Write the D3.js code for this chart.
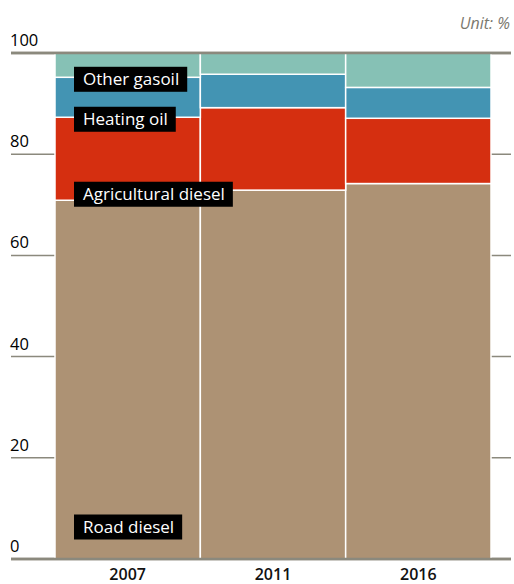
<!DOCTYPE html>
<html>
<head>
<meta charset="utf-8">
<script src="https://cdn.jsdelivr.net/npm/d3@7"></script>
<style>
  body { margin: 0; background: #fff; }
  text { font-family: "Open Sans", sans-serif; }
</style>
</head>
<body>
<div id="chart"></div>
<script>
// chart data, shares of gasoil use in %
var years = ["2007", "2011", "2016"];
var fuels = ["Road diesel", "Agricultural diesel", "Heating oil", "Other gasoil"];
var roadDiesel = [70.9, 72.9, 74.2];
var agriDiesel = [16.4, 16.3, 12.9];
var heatingOil = [7.9, 6.6, 6.1];
var otherGasoil = [4.8, 4.2, 6.8];
var yTicks = [0, 20, 40, 60, 80, 100];
var colours = ["#ad9274", "#d52f10", "#4394b3", "#86c1b5"];

var chartWidth = 514,
    chartHeight = 584,
    plotLeft = 55,
    plotRight = 491,
    plotTop = 53,
    plotBottom = 559;

// rows for the stack
var rows = years.map(function(yr, i) {
  return {
    year: yr,
    "Road diesel": roadDiesel[i],
    "Agricultural diesel": agriDiesel[i],
    "Heating oil": heatingOil[i],
    "Other gasoil": otherGasoil[i]
  };
});

var series = d3.stack().keys(fuels)(rows);

var svg = d3.select("#chart")
            .append("svg")
            .attr("width", chartWidth)
            .attr("height", chartHeight);

var x = d3.scaleBand()
          .domain(years)
          .range([plotLeft, plotRight])
          .padding(0);

var y = d3.scaleLinear()
          .domain([0, 100])
          .range([plotBottom, plotTop]);

// grid lines with the tick labels sitting on top of them
var grid = svg.append("g");
grid.selectAll("line")
    .data(yTicks)
    .enter()
    .append("line")
    .attr("x1", 11)
    .attr("x2", 511)
    .attr("y1", function(d) { return y(d); })
    .attr("y2", function(d) { return y(d); })
    .attr("stroke", "#8b897d")
    .attr("stroke-width", function(d) { return (d == 0 || d == 100) ? 2.5 : 1.5; });

grid.selectAll("text")
    .data(yTicks)
    .enter()
    .append("text")
    .attr("x", 10)
    .attr("y", function(d) { return y(d) - 7; })
    .attr("font-size", 16.5)
    .attr("fill", "#000")
    .text(function(d) { return d; });

// stacked bars
svg.append("g")
   .selectAll("g")
   .data(series)
   .enter()
   .append("g")
   .attr("fill", function(d, i) { return colours[i]; })
   .selectAll("rect")
   .data(function(d) { return d; })
   .enter()
   .append("rect")
   .attr("x", function(d) { return x(d.data.year); })
   .attr("width", x.bandwidth())
   .attr("y", function(d) { return y(d[1]); })
   .attr("height", function(d) { return y(d[0]) - y(d[1]); })
   .attr("stroke", "#fff")
   .attr("stroke-width", 1.5);

// redraw the top and bottom lines over the bars
svg.selectAll(".edge")
   .data([0, 100])
   .enter()
   .append("line")
   .attr("class", "edge")
   .attr("x1", 11)
   .attr("x2", 511)
   .attr("y1", function(d) { return y(d); })
   .attr("y2", function(d) { return y(d); })
   .attr("stroke", "#8b897d")
   .attr("stroke-width", 2.5);

// year labels
svg.selectAll(".year")
   .data(years)
   .enter()
   .append("text")
   .attr("class", "year")
   .attr("x", function(d) { return x(d) + x.bandwidth() / 2; })
   .attr("y", 580)
   .attr("text-anchor", "middle")
   .attr("font-size", 16)
   .attr("font-weight", 600)
   .attr("fill", "#111")
   .text(function(d) { return d; });

// unit note
svg.append("text")
   .attr("x", 510)
   .attr("y", 29)
   .attr("text-anchor", "end")
   .attr("font-size", 16)
   .attr("font-style", "italic")
   .attr("fill", "#7a786e")
   .text("Unit: %");

// series labels, placed on the 2007 bar near the bottom of each segment
var first = series.map(function(s) { return s[0]; });
var labelCentre = first.map(function(d, i) {
  if (i == 0) return y(d[0]) - 32;
  if (i == 1) return y(d[0]) - 6;
  return y(d[0]) + 2;
});

var labels = svg.append("g");
labels.selectAll("g")
      .data(fuels)
      .enter()
      .append("g")
      .each(function(name, i) {
        var g = d3.select(this);
        var t = g.append("text")
                 .attr("x", 83)
                 .attr("y", labelCentre[i] + 6)
                 .attr("font-size", 17)
                 .attr("fill", "#fff")
                 .text(name);
        var w = t.node().getComputedTextLength();
        g.insert("rect", "text")
         .attr("x", 74)
         .attr("y", labelCentre[i] - 12.5)
         .attr("width", w + 17)
         .attr("height", 25)
         .attr("fill", "#000");
      });
</script>
</body>
</html>
